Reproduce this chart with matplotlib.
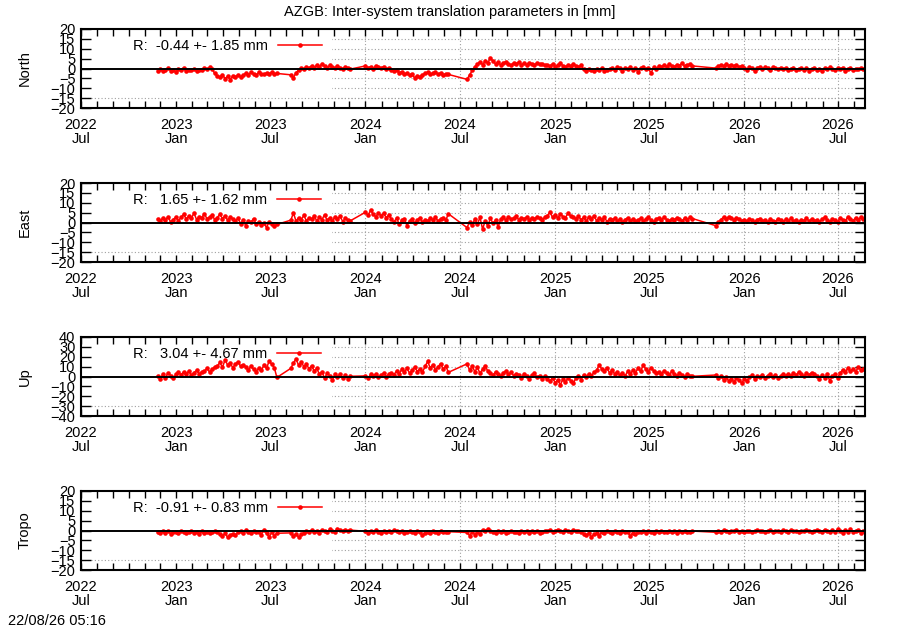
import numpy as np
import matplotlib
matplotlib.use("Agg")
import matplotlib.pyplot as plt
import matplotlib.dates as mdates
from matplotlib.patches import Rectangle

plt.rcParams['font.family'] = ['Liberation Sans', 'DejaVu Sans']

# observation blocks: first day and number of 5-day epochs in each block
seg_start = ['2022-11-26', '2023-08-10', '2024-01-01', '2024-07-15', '2025-11-07']
seg_count = [47, 24, 33, 88, 58]
step_days = 5

# North [mm]
north = [
    -1.2, -0.4, -1.5, -0.6, 0.2, -1.1, -0.8, -1.7, -0.3, -0.9, 0.4, -1.3, -0.7, -1.0, -0.2, -1.4, -0.6, -0.9, 0.1, -0.5, 0.6, -0.2,
    -2.5, -3.8, -4.5, -3.2, -5.1, -4.0, -5.6, -3.6, -4.4, -3.1, -4.2, -3.4,
    -2.4, -3.1, -2.0, -2.8, -3.5, -1.9, -2.6, -3.0, -2.2, -2.9, -1.8, -2.7, -2.5,
    # block 2
    -3.2, -4.6, -2.1, -0.8,
    0.3, -0.4, 0.9, 0.2, 1.4, 0.5, 1.8, 0.7, 2.5, 1.1, 0.4, 1.6, 0.8, 0.1, 1.2, 0.5, -0.2, 0.9, 0.3, -0.3,
    # block 3
    1.3, 0.4, 0.9, -0.2, 1.5, 0.6, 0.1, 1.0, -0.4, 0.3,
    -0.6, -1.4, -0.9, -2.1, -1.6, -2.8, -2.3, -3.5, -2.9, -4.8, -3.6, -4.2, -3.1, -2.5,
    -2.0, -3.0, -2.4, -1.8, -2.9, -2.2, -3.3, -2.6, -3.0,
    # block 4
    -5.5, -3.2, -1.0, 0.8,
    2.2, 3.4, 1.9, 3.8, 2.9, 5.3,
    3.6, 2.4, 3.1, 1.8, 2.8, 3.5, 2.2, 1.6, 2.9, 2.4, 3.3, 1.9, 2.6, 2.0, 3.0, 2.3, 1.7, 2.8, 2.1, 2.5, 1.6,
    1.9, 1.2, 2.4, 1.0, 1.7, 2.6, 1.4, 0.8, 1.9, 1.3, 2.2, 1.5, 0.9, 1.6,
    -0.5, -1.2, -0.3, -0.9, -1.4, -0.4, -0.8, 0.2, -1.1, -0.6, -0.2,
    0.3, -0.6, 0.8, 0.1, -1.3, 0.5, -0.2, 0.9, -0.8, 0.4, -2.0, 0.2, 0.7, -0.5, 0.3, -2.4, 0.6, -0.3,
    1.2, 0.6, 1.9, 1.0, 2.3, 1.4, 0.8, 2.0, 1.5, 2.8, 1.1, 1.7, 2.2, 1.3,
    # block 5
    0.2, 1.1, 1.8, 1.3, 2.2, 1.5, 1.9, 1.2, 1.7, 0.9, 1.4,
    0.4, -0.6, 0.8, 0.2, -1.3, 0.5, 0.9, -0.2, 0.6, 0.1, -0.9, 0.7, 0.3, -0.4, 0.5,
    -0.3, 0.4, -0.8, -0.1, 0.5, -1.0, -0.4, 0.2, -0.7, 0.3, -1.2, -0.2, 0.4, -0.6, -0.1, -1.5,
    0.2, -0.5, 0.6, -0.3, -0.9, 0.1, -0.4, 0.5, -1.1, -0.2, 0.3, -0.7, 0.0, -0.5, 0.4, -0.3,
]

# East [mm]
east = [
    1.8, 0.6, 2.4, 1.1, 3.0, 0.2, 1.5, 2.7, 0.9,
    2.6, 4.1, 1.8, 3.3, 2.1, 4.8, 1.5, 3.0, 2.4, 4.5, 1.9, 2.8, 3.9, 1.4, 2.5, 4.2, 2.0, 3.4, 1.1, 2.9, 1.6,
    0.8, 2.2, -0.6, 1.5, -1.8, 1.0, 0.1, 2.0, -0.9,
    0.3, -1.4, -0.2, -2.6, 0.5, -0.8, -1.9, -1.0,
    # block 2
    1.2, 4.9, 0.6, 2.5, 1.4, 3.6, 0.9, 2.2, 1.7, 3.3, 0.8, 2.6, 1.5, 3.9, 1.1, 2.4, 0.7, 2.9, 1.8, 3.2, 0.5, 2.1, 1.3, 0.9,
    # block 3
    5.2, 3.6, 6.3, 4.1, 2.9, 5.0, 3.4, 4.6, 2.5, 3.8,
    1.6, 0.2, 2.3, -0.9, 1.1, 2.0, -1.6, 0.7, 1.8, -0.4, 1.3, 2.4, 0.1, 1.5,
    0.9, 2.2, 1.4, 2.8, 0.6, 1.9, 2.5, 1.2, 4.4,
    # block 4
    -2.6, 0.4, -1.5, 1.8, -0.8, 2.6, -3.4, 0.9, -1.9, 2.2, -0.5, 1.3, -2.3,
    1.8, 2.6, 1.2, 2.9, 1.6, 2.2, 3.1, 1.4, 2.4, 1.9, 2.8, 1.3, 2.5, 1.7, 3.0, 2.1, 1.5, 2.6,
    3.4, 5.3, 2.6, 3.9, 2.2, 4.4, 3.0, 2.5, 4.9, 3.3, 2.7,
    2.0, 3.2, 1.4, 2.6, 0.6, 2.9, 1.7, 3.4, 0.9, 2.3, 1.5, 2.8, 0.4, 1.9,
    1.3, 2.2, 0.8, 1.8, 0.3, 1.5, 2.4, 1.0, 1.9, 0.6, 1.4, 2.1, 0.9, 1.6, 2.6, 1.2,
    0.5, 1.8, 2.3, 1.1, 2.8, 1.5, 0.7, 2.0, 1.3, 2.5, 1.7, 0.9, 2.2, 1.4, 2.6, 2.0,
    # block 5
    -1.6, 0.2, 1.5, 2.7, 1.8, 3.0, 2.2, 1.4, 2.5, 1.7, 0.9,
    1.3, 0.6, 1.8, 1.1, 0.3, 1.5, 2.0, 0.8, 1.4, 0.2, 1.7, 1.0, 0.5, 1.9, 1.2, 0.4,
    1.6, 0.9, 2.1, 0.7, 1.3, 0.1, 1.5, 1.0, 2.3, 0.6, 1.8, 0.9, 1.4, 0.3, 1.7, 2.6,
    1.1, 0.5, 1.9, 1.2, 0.4, 2.2, 1.5, 0.8, 2.9, 1.6, 1.0, 2.4, 1.3, 2.7, 1.9,
]

# Up [mm]
up = [
    0.5, -2.8, 2.6, -1.2, 3.8, 0.9, -2.0, 2.1, 4.2,
    1.8, 4.6, 2.3, 5.5, 1.4, 3.9, 6.1, 2.7, 4.8,
    5.2, 8.3, 4.6, 7.4, 9.8,
    10.5, 14.2, 9.3, 16.8, 11.6, 13.4, 8.9, 12.7, 15.1, 10.2, 12.0,
    9.6, 6.4, 10.8, 7.2, 4.9, 8.5, 6.1,
    11.4, 8.2, 15.6, 12.3, 9.1, -1.0,
    # block 2
    8.3, 13.9, 17.8, 11.2, 14.6, 10.1,
    12.4, 7.8, 10.9, 5.6, 8.2,
    2.4, 4.9, -1.8, 3.3, 0.6, -3.9, 2.1,
    -0.4, 2.8, -1.6, 1.5, -2.7, 0.2,
    # block 3
    0.6, -1.8, 2.2, 0.1, 2.9, -0.9, 1.4, 3.6, -0.3, 2.5,
    3.8, 1.9, 5.6, 2.7, 7.2, 4.1, 8.5, 3.4, 6.3, 9.7, 5.0, 7.8, 4.4, 10.2,
    15.3, 8.6, 11.9, 6.7, 9.8, 13.1, 7.5, 10.6, 4.2,
    # block 4
    12.8, 6.4, 10.5, 4.9, 9.2, 3.1, 7.6, 11.0, 5.3,
    3.6, 1.2, 4.8, 2.4, 0.3, 3.9, 5.6, 2.1, 4.3, 0.9, 3.0,
    1.8, -1.4, 2.9, 0.4, -2.6, 1.5, 3.3, -0.8, 1.0, -2.1, 0.6,
    -2.3, -4.8, -1.1, -6.2, -3.5, -8.4, -2.7, -5.6, -1.5, -4.1, -6.9,
    -1.8, 0.9, -3.2, 1.6, -0.7, 2.8, 0.2, 4.5, 6.1,
    11.8, 7.4, 5.2, 8.9, 3.6, 6.7,
    2.4, 4.8, 1.1, 3.9, 0.5, 5.3, 2.7,
    6.2, 3.8, 8.4, 5.1, 11.6, 7.3, 4.6, 9.0, 5.8, 3.2,
    4.9, 2.2, 6.0, 3.5, 1.3, 5.2, 2.8, 0.6, 3.7, 1.9, -0.5, 2.4, 0.8, 0.2,
    # block 5
    1.5, -1.8, 0.4, -3.2, -0.9, -4.5, -2.1, -5.8, -1.4, -3.7, -6.6, -2.5, -4.2,
    -1.0, 1.2, -2.3, 0.5, -0.6, 2.0, -1.5, 0.9, 2.6, -0.3, 1.7, -1.1, 0.4, 2.3, 0.8,
    2.9, 0.6, 3.8, 1.4, 4.5, 2.2, 0.3, 3.1, 1.8, 4.0, 2.5,
    0.8, -2.9, 1.9, -1.2, 2.6, -4.4, 0.4, 2.1, -1.7,
    3.5, 6.8, 4.2, 8.6, 5.4, 7.9, 4.8, 9.5, 6.6, 8.1,
]

# Tropo [mm]
tropo = [
    -0.8, -1.4, -0.5, -1.1, -0.3, -1.6, -0.9, -0.6, -1.3, -0.4, -1.0, -1.5,
    -0.7, -0.2, -1.2, -0.8, -1.7, -0.5, -1.1, -0.6, -1.4, -0.9, -0.3, -1.0,
    -1.8, -2.9, -1.5, -3.4, -2.2, -1.6, -2.5,
    -0.9, -0.4, -1.3, 0.1, -0.8, -1.2, -0.3, -1.0,
    -0.6, -2.1, 0.4, -1.5, -3.3, -0.9, -2.6, -1.4,
    # block 2
    -1.2, -2.8, -1.6, -3.4, -2.0, -1.1,
    -0.5, -1.0, 0.2, -0.7, -0.2, -1.2, 0.4, -0.4, -0.9, 0.6, -0.1, -0.6, 1.0, 0.1, -0.3, 0.5, -0.5, 0.2,
    # block 3
    -0.4, -1.1, -0.2, -0.8, 0.3, -0.6, -1.3, -0.1, -0.7, -0.4, -1.0, 0.2, -0.5, -0.9, -0.3, -1.2, -0.6,
    -0.1, -0.8, -1.4, -0.5, -0.9, -2.3, -1.1, -0.6, -1.5, -0.3, -0.9, -1.2, -0.4, -0.8, -1.0, -0.6,
    # block 4
    -1.0, -2.6, -0.6, -2.1, -0.8, -1.7,
    0.4, -0.2, 0.7, -0.5,
    -0.6, -1.2, -0.3, -0.9, -0.5, -1.4, -0.7, -0.2, -1.0, -0.6, -1.3, -0.4, -0.8, -0.1, -1.1, -0.5,
    -0.9, -0.3, -1.2, -0.7, -0.4,
    -0.2, 0.3, -0.6, -0.1, 0.5, -0.4, -0.9, 0.2, -0.3, -0.7, 0.4, -0.5, -0.1, -0.8,
    -1.6, -2.5, -1.2, -3.3, -2.0, -1.4, -2.7,
    -0.6, -1.1, -0.4, -0.9, -1.3, -0.5, -0.8, -1.5, -0.3, -1.0, -0.7, -2.8, -1.2, -1.9, -0.6, -0.9, -0.2, -1.1,
    -0.5, -0.8, -1.3, -0.4, -0.7, -0.1, -1.0, -0.6, -0.3, -0.9, -0.5, -1.2, -0.2, -0.7, -0.4, -1.0, -0.6, -0.3,
    # block 5
    -0.9, -0.3, -0.6, 0.1, -0.4, -0.8, -0.2, -0.5, 0.2, -0.7, -0.3, -0.6, 0.0, -0.4, -0.9, -0.2, 0.3, -0.5,
    -0.1, -0.7, -0.3, 0.2, -0.6, -0.4, -0.1, -0.8, 0.1, -0.3, -0.6, 0.3, -0.2, -0.5, -0.9, 0.0, -0.4, 0.4,
    -0.3, -0.7, -0.1, 0.2, -0.5, -1.0, 0.5, -0.2, -0.6, 0.1, -0.9, 0.6, -0.4, -1.2, 0.3, -0.7, 0.7, -1.0,
    -0.2, 0.4, -1.3, -0.5,
]

components = ['North', 'East', 'Up', 'Tropo']
series = [north, east, up, tropo]
stats = ['R:  -0.44 +- 1.85 mm', 'R:   1.65 +- 1.62 mm', 'R:   3.04 +- 4.67 mm', 'R:  -0.91 +- 0.83 mm']
ylims = [20, 20, 40, 20]
ysteps = [5, 5, 10, 5]

x_from = np.datetime64('2022-07-01')
x_to = np.datetime64('2026-08-22')

dates = np.concatenate([np.datetime64(s) + np.arange(n) * np.timedelta64(step_days, 'D')
                        for s, n in zip(seg_start, seg_count)])

FS = 10.5
W, H = 900, 630
fig = plt.figure(figsize=(9, 6.3), dpi=100)

panel_tops = [29, 183, 337, 491]
for k in range(4):
    top = panel_tops[k]
    ax = fig.add_axes([81 / W, 1 - (top + 79) / H, 784 / W, 79 / H])
    lim = ylims[k]

    ax.plot(dates, series[k], color='red', lw=1.1, marker='o', ms=3.3, mew=0,
            zorder=2.2, label=stats[k])
    ax.axhline(0, color='black', lw=1.4, zorder=2.6)

    ax.set_xlim(x_from, x_to)
    ax.set_ylim(-lim, lim)
    ax.set_yticks(np.arange(-lim, lim + 1, ysteps[k]))
    ax.xaxis.set_major_locator(mdates.MonthLocator(bymonth=[1, 7]))
    ax.xaxis.set_minor_locator(mdates.MonthLocator())
    ax.xaxis.set_major_formatter(mdates.DateFormatter('%Y\n%b'))

    # dotted grid, hidden behind the key box on the left
    yt = [v for v in ax.get_yticks() if abs(v) < lim and v != 0]
    for v in yt:
        ax.axhline(v, color='#a0a0a0', ls=(0, (1, 2)), lw=0.8, zorder=0.5)
    for d in ax.get_xticks():
        ax.axvline(d, color='#a0a0a0', ls=(0, (1, 2)), lw=0.8, zorder=0.5)
    ax.add_patch(Rectangle((0, 0), (332 - 81) / 784, 1, transform=ax.transAxes,
                           facecolor='white', edgecolor='none', zorder=1))
    ax.axhline(yt[0], color='#a0a0a0', ls=(0, (1, 2)), lw=0.8, zorder=1.1)

    ax.tick_params(axis='both', which='both', direction='in', top=True, right=True,
                   labelsize=FS, width=1)
    ax.tick_params(axis='x', which='both', length=5, pad=7)
    ax.tick_params(axis='y', which='major', length=7, pad=4)
    for sp in ax.spines.values():
        sp.set_linewidth(1.5)
        sp.set_zorder(3)

    ax.set_ylabel(components[k], fontsize=FS)
    ax.yaxis.set_label_coords(-0.0625, 0.5)

    ax.legend(loc='center left', bbox_to_anchor=(0.066, 0.785), frameon=False,
              markerfirst=False, handlelength=3.0, handletextpad=0.7,
              borderaxespad=0, borderpad=0, fontsize=FS, numpoints=1)

fig.text(0.5, 1 - 12 / H, 'AZGB: Inter-system translation parameters in [mm]',
         ha='center', va='center', fontsize=FS)
fig.text(8 / W, 1 - 621 / H, '22/08/26 05:16', ha='left', va='center', fontsize=FS)

fig.canvas.draw()
for ax in fig.axes:
    for lbl in ax.get_xticklabels():
        lbl.set_linespacing(1.0)

fig.savefig('out.png', dpi=100)
